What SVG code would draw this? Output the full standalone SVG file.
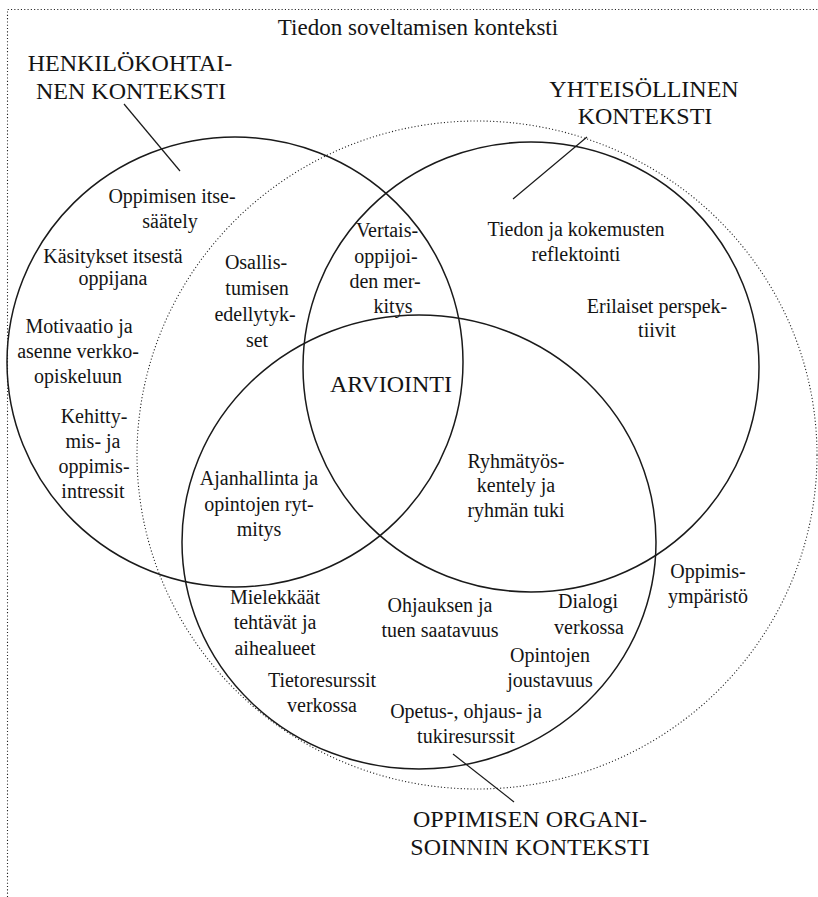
<svg xmlns="http://www.w3.org/2000/svg" width="818" height="897" viewBox="0 0 818 897">
  <style>
    .bg { fill: #ffffff; }
    .ring { fill: none; stroke: #1a1a1a; stroke-width: 1.5; }
    .dots { fill: none; stroke: #222222; stroke-width: 1.1; stroke-dasharray: 1.1 2.2; }
    .lead { fill: none; stroke: #1a1a1a; stroke-width: 1.2; }
    text { font-family: "Liberation Serif", "Times New Roman", serif; fill: #141414; text-anchor: middle; }
    .t { font-size: 20px; }
    .title { font-size: 23px; }
    .caps { font-size: 24px; }
  </style>
  <rect class="bg" x="0" y="0" width="818" height="897"/>

  <!-- dotted outer frame: top and left edges only -->
  <g id="frame">
    <path class="dots" d="M7.5 897 V9.5 H818"/>
  </g>

  <g id="application-context">
    <text class="title" x="418" y="35">Tiedon soveltamisen konteksti</text>
  </g>

  <!-- learning environment: dotted ellipse -->
  <g id="learning-environment">
    <ellipse class="dots" cx="477" cy="455" rx="340" ry="334"/>
    <text class="t" x="708" y="578">Oppimis-</text>
    <text class="t" x="708" y="603">ympäristö</text>
  </g>

  <!-- personal context -->
  <g id="personal-context">
    <ellipse class="ring" cx="235" cy="362" rx="228" ry="225"/>
    <text class="caps" x="130" y="71">HENKILÖKOHTAI-</text>
    <text class="caps" x="131" y="99">NEN KONTEKSTI</text>
    <text class="t" x="172" y="203">Oppimisen itse-</text>
    <text class="t" x="170" y="228">säätely</text>
    <text class="t" x="113" y="263">Käsitykset itsestä</text>
    <text class="t" x="113" y="285">oppijana</text>
    <text class="t" x="79" y="333">Motivaatio ja</text>
    <text class="t" x="78" y="358">asenne verkko-</text>
    <text class="t" x="78" y="383">opiskeluun</text>
    <text class="t" x="94" y="423">Kehitty-</text>
    <text class="t" x="93" y="448">mis- ja</text>
    <text class="t" x="94" y="473">oppimis-</text>
    <text class="t" x="93" y="498">intressit</text>
  </g>

  <!-- communal context -->
  <g id="communal-context">
    <ellipse class="ring" cx="531" cy="367" rx="228" ry="225"/>
    <text class="caps" x="644" y="97">YHTEISÖLLINEN</text>
    <text class="caps" x="645" y="124">KONTEKSTI</text>
    <text class="t" x="576" y="236">Tiedon ja kokemusten</text>
    <text class="t" x="576" y="261">reflektointi</text>
    <text class="t" x="657" y="313">Erilaiset perspek-</text>
    <text class="t" x="657" y="337">tiivit</text>
  </g>

  <!-- organisational context -->
  <g id="organisation-context">
    <ellipse class="ring" cx="419" cy="542" rx="237" ry="227"/>
    <text class="caps" x="530" y="827">OPPIMISEN ORGANI-</text>
    <text class="caps" x="530" y="855">SOINNIN KONTEKSTI</text>
    <text class="t" x="275" y="604">Mielekkäät</text>
    <text class="t" x="275" y="629">tehtävät ja</text>
    <text class="t" x="275" y="655">aihealueet</text>
    <text class="t" x="440" y="612">Ohjauksen ja</text>
    <text class="t" x="440" y="637">tuen saatavuus</text>
    <text class="t" x="588" y="608">Dialogi</text>
    <text class="t" x="589" y="634">verkossa</text>
    <text class="t" x="550" y="662">Opintojen</text>
    <text class="t" x="550" y="687">joustavuus</text>
    <text class="t" x="322" y="687">Tietoresurssit</text>
    <text class="t" x="322" y="712">verkossa</text>
    <text class="t" x="466" y="718">Opetus-, ohjaus- ja</text>
    <text class="t" x="466" y="743">tukiresurssit</text>
  </g>

  <!-- labels in the overlaps -->
  <g id="participation">
    <text class="t" x="256" y="269">Osallis-</text>
    <text class="t" x="257" y="295">tumisen</text>
    <text class="t" x="255" y="321">edellytyk-</text>
    <text class="t" x="257" y="347">set</text>
  </g>
  <g id="peers">
    <text class="t" x="387" y="237">Vertais-</text>
    <text class="t" x="386" y="263">oppijoi-</text>
    <text class="t" x="385" y="288">den mer-</text>
    <text class="t" x="393" y="313">kitys</text>
  </g>
  <g id="assessment">
    <text class="caps" x="391" y="392">ARVIOINTI</text>
  </g>
  <g id="time-management">
    <text class="t" x="259" y="485">Ajanhallinta ja</text>
    <text class="t" x="259" y="511">opintojen ryt-</text>
    <text class="t" x="259" y="536">mitys</text>
  </g>
  <g id="group-work">
    <text class="t" x="516" y="468">Ryhmätyös-</text>
    <text class="t" x="516" y="492">kentely ja</text>
    <text class="t" x="516" y="517">ryhmän tuki</text>
  </g>

  <!-- leader lines from the context labels -->
  <g id="connectors">
    <line class="lead" x1="124" y1="104" x2="180" y2="171"/>
    <line class="lead" x1="587" y1="137" x2="513" y2="199"/>
    <line class="lead" x1="453" y1="754" x2="514" y2="802"/>
  </g>
</svg>
